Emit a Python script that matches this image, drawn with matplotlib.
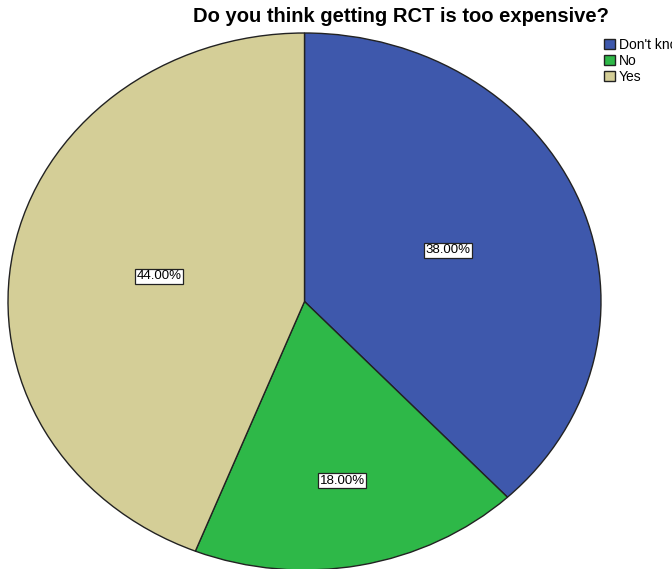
import numpy as np
import matplotlib.pyplot as plt

plt.rcParams['font.family'] = ['Liberation Sans', 'DejaVu Sans']

# survey answers
answers = ["Don't know", "No", "Yes"]
shares = [38.0, 18.0, 44.0]
colors = ['#3E58AC', '#2EB848', '#D4CE97']
# how far out along each wedge the percent box sits
label_radius = [0.52, 0.68, 0.50]

W, H = 672, 569
fig = plt.figure(figsize=(W / 100, H / 100), dpi=100)

# pie is stretched slightly wider than tall, so axes are placed in pixels
left, right, top, bottom = 8, 601, 33, 570
ax = fig.add_axes([left / W, 1 - bottom / H, (right - left) / W, (bottom - top) / H])

wedges, _ = ax.pie(shares, colors=colors, startangle=90, counterclock=False,
                   wedgeprops=dict(edgecolor='#222222', linewidth=1.0))
ax.set_aspect('auto')
ax.set_xlim(-1, 1)
ax.set_ylim(-1, 1)
ax.axis('off')

for w, v, r in zip(wedges, shares, label_radius):
    mid = np.deg2rad((w.theta1 + w.theta2) / 2)
    ax.text(r * np.cos(mid), r * np.sin(mid), '%.2f%%' % v,
            ha='center', va='center', fontsize=9.5,
            bbox=dict(boxstyle='square,pad=0.12', facecolor='white',
                      edgecolor='#222222', linewidth=0.9))

fig.text(401 / W, 1 - 17 / H, 'Do you think getting RCT is too expensive?',
         ha='center', va='center', fontsize=14.5, fontweight='bold')

# legend hangs off the right edge, so the first entry is cut short
fig.legend(wedges, answers, loc='upper left',
           bbox_to_anchor=(601 / W, 1 - 35 / H), frameon=False,
           fontsize=10, handlelength=0.8, handleheight=0.7,
           handletextpad=0.3, labelspacing=0.15, borderpad=0.2,
           borderaxespad=0)

fig.savefig('out.png', dpi=100)
